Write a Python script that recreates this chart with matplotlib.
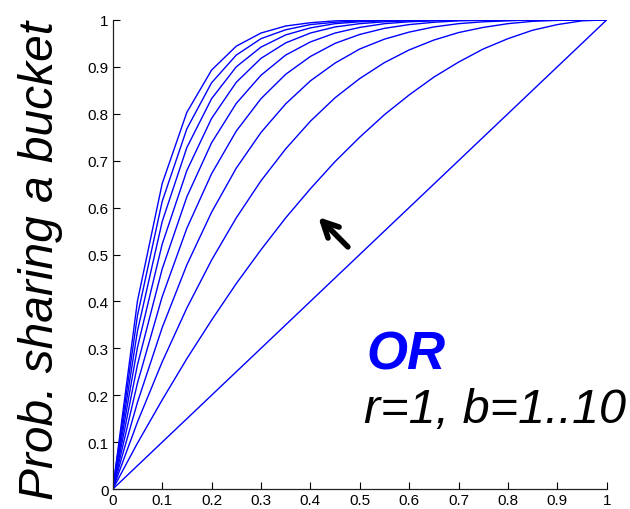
import matplotlib

matplotlib.use("Agg")
import matplotlib.pyplot as plt
import numpy as np

plt.rcParams["font.family"] = ["Liberation Sans", "DejaVu Sans"]

# similarity s sampled every 0.05, one curve per band count b
S = [0.0, 0.05, 0.1, 0.15, 0.2, 0.25, 0.3, 0.35, 0.4, 0.45, 0.5,
     0.55, 0.6, 0.65, 0.7, 0.75, 0.8, 0.85, 0.9, 0.95, 1.0]
B1 = [0.0, 0.05, 0.1, 0.15, 0.2, 0.25, 0.3, 0.35, 0.4, 0.45, 0.5,
      0.55, 0.6, 0.65, 0.7, 0.75, 0.8, 0.85, 0.9, 0.95, 1.0]
B2 = [0.0, 0.098, 0.19, 0.278, 0.36, 0.438, 0.51, 0.578, 0.64, 0.698, 0.75,
      0.798, 0.84, 0.878, 0.91, 0.938, 0.96, 0.978, 0.99, 0.998, 1.0]
B3 = [0.0, 0.143, 0.271, 0.386, 0.488, 0.578, 0.657, 0.725, 0.784, 0.834, 0.875,
      0.909, 0.936, 0.957, 0.973, 0.984, 0.992, 0.997, 0.999, 1.0, 1.0]
B4 = [0.0, 0.185, 0.344, 0.478, 0.59, 0.684, 0.76, 0.821, 0.87, 0.908, 0.938,
      0.959, 0.974, 0.985, 0.992, 0.996, 0.998, 1.0, 1.0, 1.0, 1.0]
B5 = [0.0, 0.226, 0.41, 0.556, 0.672, 0.763, 0.832, 0.884, 0.922, 0.95, 0.969,
      0.982, 0.99, 0.995, 0.998, 0.999, 1.0, 1.0, 1.0, 1.0, 1.0]
B6 = [0.0, 0.265, 0.469, 0.623, 0.738, 0.822, 0.882, 0.925, 0.953, 0.972, 0.984,
      0.992, 0.996, 0.998, 0.999, 1.0, 1.0, 1.0, 1.0, 1.0, 1.0]
B7 = [0.0, 0.302, 0.522, 0.679, 0.79, 0.867, 0.918, 0.951, 0.972, 0.985, 0.992,
      0.996, 0.998, 0.999, 1.0, 1.0, 1.0, 1.0, 1.0, 1.0, 1.0]
B8 = [0.0, 0.337, 0.57, 0.728, 0.832, 0.9, 0.942, 0.968, 0.983, 0.992, 0.996,
      0.998, 0.999, 1.0, 1.0, 1.0, 1.0, 1.0, 1.0, 1.0, 1.0]
B9 = [0.0, 0.37, 0.613, 0.768, 0.866, 0.925, 0.96, 0.979, 0.99, 0.995, 0.998,
      0.999, 1.0, 1.0, 1.0, 1.0, 1.0, 1.0, 1.0, 1.0, 1.0]
B10 = [0.0, 0.401, 0.651, 0.803, 0.893, 0.944, 0.972, 0.987, 0.994, 0.998, 0.999,
       1.0, 1.0, 1.0, 1.0, 1.0, 1.0, 1.0, 1.0, 1.0, 1.0]
CURVES = [B1, B2, B3, B4, B5, B6, B7, B8, B9, B10]

TICKS = [0, 0.1, 0.2, 0.3, 0.4, 0.5, 0.6, 0.7, 0.8, 0.9, 1]
TICK_LABELS = ["0", "0.1", "0.2", "0.3", "0.4", "0.5", "0.6", "0.7", "0.8", "0.9", "1"]

fig = plt.figure(figsize=(6.3, 5.1), dpi=100)
ax = fig.add_axes([0.179, 0.039, 0.784, 0.920])

for ys in CURVES:
    ax.plot(S, ys, color="#0000ff", linewidth=1.0)

ax.set_xlim(0, 1)
ax.set_ylim(0, 1)
ax.set_xticks(TICKS)
ax.set_xticklabels(TICK_LABELS)
ax.set_yticks(TICKS)
ax.set_yticklabels(TICK_LABELS)
ax.tick_params(direction="in", length=5, width=0.8, labelsize=11, pad=3)
for side in ("top", "right"):
    ax.spines[side].set_visible(False)
for side in ("left", "bottom"):
    ax.spines[side].set_linewidth(0.9)
    ax.spines[side].set_color("#222222")

fig.text(0.064, 0.49, "Prob. sharing a bucket", rotation=90, ha="center", va="center",
         fontsize=34.5, style="italic")

ax.annotate("", xy=(0.412, 0.584), xytext=(0.48, 0.512),
            arrowprops=dict(arrowstyle="->", lw=4, color="black",
                            mutation_scale=28, capstyle="round", joinstyle="round"))

ax.text(0.514, 0.258, "OR", color="#0000ff", fontsize=38, style="italic",
        fontweight="bold", ha="left", va="baseline")
ax.text(0.508, 0.143, "r=1, b=1..10", color="black", fontsize=35, style="italic",
        ha="left", va="baseline", clip_on=False)

fig.savefig("out.png", dpi=100)
